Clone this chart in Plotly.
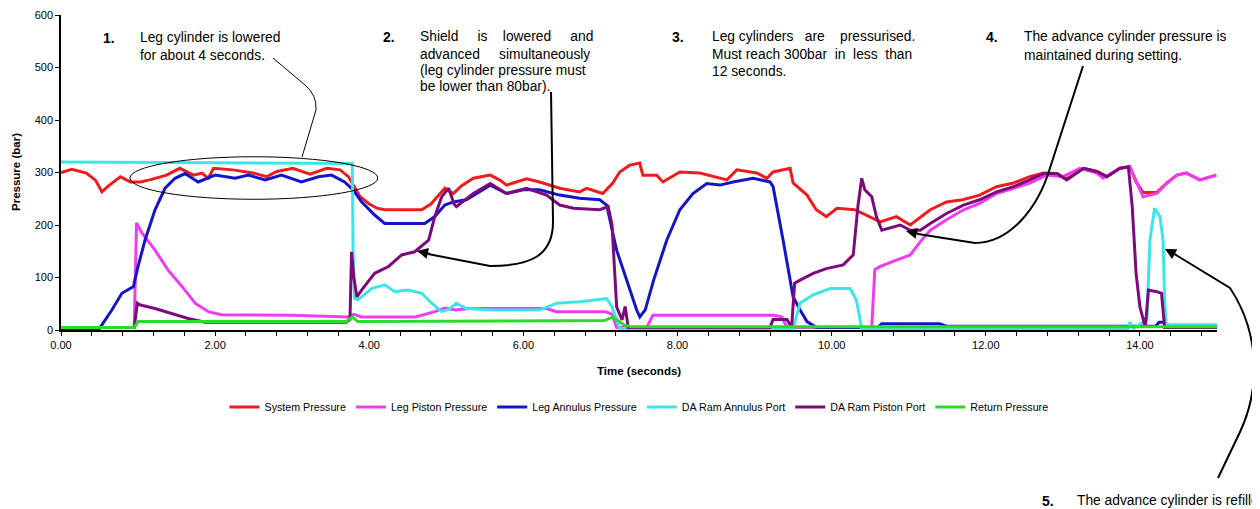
import plotly.graph_objects as go

# ---------------- data ----------------
sys_t = [0.00, 0.14, 0.33, 0.45, 0.53, 0.62, 0.77, 0.90, 1.03, 1.15, 1.37, 1.54, 1.72, 1.83, 1.91, 1.98,
         2.23, 2.49, 2.67, 2.80, 3.01, 3.23, 3.45, 3.62, 3.73, 3.80, 3.88, 4.00, 4.10, 4.20, 4.68, 4.80,
         4.90, 4.98, 5.09, 5.20, 5.35, 5.57, 5.70, 5.78, 6.04, 6.21, 6.47, 6.73, 6.82, 7.03, 7.16, 7.25,
         7.38, 7.51, 7.55, 7.73, 7.81, 8.03, 8.29, 8.46, 8.64, 8.77, 9.03, 9.16, 9.24, 9.46, 9.50, 9.68,
         9.80, 9.93, 10.07, 10.30, 10.40, 10.63, 10.84, 11.02, 11.28, 11.49, 11.70, 11.92, 12.14, 12.36,
         12.57, 12.75, 12.92, 13.05, 13.27, 13.44, 13.57, 13.74, 13.87, 13.95, 14.04, 14.22, 14.35, 14.48,
         14.60, 14.78, 14.99]
sys_v = [300, 306, 299, 285, 263, 275, 292, 282, 282, 286, 295, 308, 295, 299, 289, 308,
         305, 299, 292, 302, 308, 297, 308, 305, 292, 275, 254, 240, 232, 229, 229, 240,
         257, 270, 260, 275, 289, 295, 285, 276, 288, 282, 270, 263, 270, 260, 280, 301,
         314, 318, 295, 295, 282, 301, 299, 292, 286, 305, 299, 289, 301, 308, 280, 257,
         229, 216, 232, 229, 222, 206, 216, 200, 229, 244, 248, 257, 273, 280,
         292, 299, 298, 288, 308, 302, 292, 308, 311, 282, 262, 262, 280, 295,
         299, 286, 295]

legp_t = [0.00, 0.95, 0.98, 1.05, 1.22, 1.39, 1.57, 1.74, 1.91, 2.08, 3.00, 3.73, 3.80, 3.90, 4.60,
          4.85, 4.98, 5.12, 5.30, 6.30, 6.43, 7.07, 7.15, 7.21, 7.60, 7.68, 9.24, 9.35, 9.42, 10.52,
          10.56, 10.63, 10.84, 11.02, 11.15, 11.28, 11.49, 11.71, 11.92, 12.14, 12.36, 12.57, 12.79,
          13.00, 13.22, 13.44, 13.52, 13.74, 13.87, 13.96, 14.04, 14.22, 14.35, 14.48, 14.60, 14.78, 14.99]
legp_v = [5, 5, 204, 185, 152, 114, 83, 51, 35, 29, 28, 25, 30, 25, 25,
          35, 42, 38, 41, 41, 35, 35, 30, 5, 5, 28, 28, 25, 5, 5,
          115, 121, 133, 143, 168, 190, 210, 229, 241, 260, 270, 280, 295,
          292, 308, 299, 289, 308, 311, 282, 254, 260, 280, 295, 299, 286, 295]

lega_t = [0.00, 0.50, 0.66, 0.79, 0.94, 1.00, 1.09, 1.22, 1.35, 1.48, 1.61, 1.78, 2.00, 2.26, 2.43,
          2.65, 2.86, 3.12, 3.34, 3.51, 3.68, 3.79, 3.90, 4.07, 4.20, 4.72, 4.85, 4.98, 5.09, 5.26,
          5.57, 5.78, 6.00, 6.21, 6.47, 6.73, 6.99, 7.08, 7.21, 7.34, 7.47, 7.51, 7.58, 7.69, 7.86,
          8.03, 8.20, 8.38, 8.55, 8.72, 8.98, 9.20, 9.24, 9.37, 9.50, 9.59, 9.68, 9.80, 10.60, 10.65,
          11.40, 11.50, 14.20, 14.25, 14.32, 14.35, 15.00]
lega_v = [3, 3, 38, 70, 83, 121, 171, 229, 270, 289, 298, 282, 295, 289, 295,
          286, 295, 282, 292, 295, 282, 267, 244, 219, 203, 203, 216, 238, 244, 248,
          276, 260, 267, 267, 257, 251, 248, 238, 152, 95, 38, 25, 38, 95, 171,
          229, 260, 279, 276, 282, 289, 282, 273, 171, 63, 38, 16, 5, 5, 12,
          12, 7, 7, 15, 15, 5, 5]

daa_t = [0.00, 3.78, 3.79, 3.81, 3.85, 3.95, 4.03, 4.20, 4.33, 4.50, 4.68, 4.81, 4.94, 5.04, 5.13,
         5.26, 5.57, 6.21, 6.43, 6.73, 7.08, 7.15, 7.25, 9.50, 9.59, 9.76, 9.98, 10.24, 10.32, 10.39,
         13.85, 13.87, 13.92, 14.09, 14.13, 14.19, 14.26, 14.30, 14.32, 14.34, 15.00]
daa_v = [320, 317, 152, 60, 57, 70, 79, 86, 73, 76, 70, 51, 35, 40, 51,
         41, 38, 38, 51, 54, 60, 44, 3, 3, 51, 67, 79, 79, 57, 3,
         3, 15, 3, 20, 171, 232, 216, 171, 57, 10, 10]

dap_t = [0.00, 0.95, 0.99, 1.02, 1.22, 1.44, 1.65, 1.87, 3.70, 3.75, 3.77, 3.80, 3.84, 3.90, 4.07,
         4.25, 4.42, 4.59, 4.77, 4.85, 4.94, 5.03, 5.10, 5.13, 5.35, 5.57, 5.78, 6.04, 6.30, 6.47,
         6.65, 6.99, 7.10, 7.15, 7.21, 7.28, 7.32, 7.36, 9.20, 9.24, 9.42, 9.48, 9.52, 9.59, 9.76,
         9.93, 10.15, 10.28, 10.34, 10.39, 10.43, 10.52, 10.58, 10.65, 10.76, 10.89, 11.02, 11.15,
         11.28, 11.49, 11.71, 11.92, 12.14, 12.36, 12.57, 12.75, 12.92, 13.05, 13.27, 13.44, 13.57,
         13.74, 13.85, 13.90, 13.95, 14.00, 14.07, 14.11, 14.22, 14.28, 14.32, 15.00]
dap_v = [5, 5, 51, 48, 41, 32, 22, 15, 15, 20, 149, 100, 63, 76, 108,
         121, 143, 149, 171, 216, 254, 270, 240, 235, 260, 279, 260, 270, 257, 238,
         232, 229, 235, 200, 44, 19, 45, 5, 5, 20, 20, 5, 89, 95, 108,
         117, 124, 143, 235, 289, 267, 254, 216, 190, 194, 200, 190, 190,
         203, 222, 238, 248, 263, 273, 286, 298, 298, 286, 308, 302, 292,
         308, 311, 235, 108, 44, 5, 76, 73, 70, 5, 5]

ret_t = [0.00, 0.95, 1.00, 3.70, 3.78, 3.85, 7.05, 7.16, 7.30, 7.40, 15.00]
ret_v = [5, 5, 16, 16, 25, 16, 18, 25, 10, 6, 6]

series_names = ["System Pressure", "Leg Piston Pressure", "Leg Annulus Pressure",
                "DA Ram Annulus Port", "DA Ram Piston Port", "Return Pressure"]
series_colors = ["#ee1c1c", "#f03cf0", "#1414c8", "#3ce6e6", "#7d0a7d", "#28dc28"]

# ---------------- layout geometry ----------------
OFF = 8                      # page body margin that shifts the figure
W, H = 1260 - OFF, 509 - OFF
PL, PR, PT, PB = 61, 1217, 15, 330   # plot area on the page
ML, MT = PL - OFF, PT - OFF
PW, PH = PR - PL, PB - PT
MR = W - ML - PW
MB = H - MT - PH


def px(x, y):
    """page pixel position -> paper coordinates"""
    return (x - PL) / PW, (PB - y) / PH


FONT = "Liberation Sans, Arial, sans-serif"

fig = go.Figure()
for t, v, name, col in zip([sys_t, legp_t, lega_t, daa_t, dap_t, ret_t],
                           [sys_v, legp_v, lega_v, daa_v, dap_v, ret_v],
                           series_names, series_colors):
    fig.add_trace(go.Scatter(x=t, y=v, mode="lines", name=name,
                             line=dict(color=col, width=3)))

# ellipse around phase 1
fig.add_shape(type="circle", xref="x", yref="y", x0=0.895, x1=4.11, y0=249, y1=330,
              line=dict(color="black", width=1), layer="above")


def path_from(cmds):
    out = []
    for cmd, pts in cmds:
        coords = []
        for (x, y) in pts:
            a, b = px(x, y)
            coords.append(f"{a:.5f},{b:.5f}")
        out.append(cmd + " ".join(coords))
    return " ".join(out)


connectors = [
    ([("M", [(273, 58)]), ("L", [(305, 85)]), ("Q", [(317, 95), (316, 110)]), ("L", [(302, 157)])], 1),
    ([("M", [(551, 92)]), ("L", [(553, 222)]), ("C", [(553, 256), (530, 266), (490, 266)]),
      ("L", [(428, 254)])], 2),
    ([("M", [(1083, 66)]), ("L", [(1050, 168)]), ("C", [(1038, 208), (1010, 243), (975, 243)]),
      ("L", [(918, 234)])], 2),
    ([("M", [(1218, 478)]), ("L", [(1240, 432)]), ("C", [(1262, 385), (1258, 330), (1230, 288)]),
      ("L", [(1176, 255)])], 2),
]
for cmds, w in connectors:
    fig.add_shape(type="path", xref="paper", yref="paper", path=path_from(cmds),
                  line=dict(color="black", width=w))

# arrow heads
for (tx, ty), (ax, ay) in [((417, 251), (14, 3)), ((906, 231), (14, 3)), ((1165, 249), (13, 7))]:
    a, b = px(tx, ty)
    fig.add_annotation(x=a, y=b, xref="paper", yref="paper", text="", showarrow=True,
                       ax=ax, ay=ay, arrowhead=2, arrowsize=1.1, arrowwidth=2,
                       arrowcolor="black", standoff=0, startstandoff=0)

NB = "\u00a0"
# (number, number x, text x, line centre y's, lines)
notes = [
    ("1.", 101, 138, [38, 56], ["Leg cylinder is lowered", "for about 4 seconds."]),
    ("2.", 381, 418, [37, 54, 70.5, 87],
     ["Shield" + NB * 4 + " is" + NB * 3 + " lowered" + NB * 4 + " and",
      "advanced" + NB * 4 + " simultaneously",
      "(leg cylinder pressure must",
      "be lower than 80bar)."]),
    ("3.", 670, 710, [37, 54.5, 71],
     ["Leg cylinders" + NB * 2 + " are" + NB * 3 + " pressurised.",
      "Must reach 300bar" + NB + " in" + NB + " less" + NB + " than",
      "12 seconds."]),
    ("4.", 984, 1022, [37, 56], ["The advance cylinder pressure is", "maintained during setting."]),
    ("5.", 1040, 1075, [501], ["The advance cylinder is refilled"]),
]
for num, nx, tx, ys, lines in notes:
    a, b = px(nx, ys[0])
    fig.add_annotation(x=a, y=b, xref="paper", yref="paper", text="<b>" + num + "</b>",
                       showarrow=False, xanchor="left", yanchor="middle",
                       font=dict(family=FONT, size=14, color="black"))
    for yy, line in zip(ys, lines):
        a, b = px(tx, yy)
        fig.add_annotation(x=a, y=b, xref="paper", yref="paper", text=line, showarrow=False,
                           xanchor="left", yanchor="middle", align="left",
                           font=dict(family=FONT, size=13.8, color="black"))

# axis titles
a, b = px(639, 371)
fig.add_annotation(x=a, y=b, xref="paper", yref="paper", text="<b>Time (seconds)</b>",
                   showarrow=False, xanchor="center", yanchor="middle",
                   font=dict(family=FONT, size=11.5, color="black"))
a, b = px(16, 172)
fig.add_annotation(x=a, y=b, xref="paper", yref="paper", text="<b>Pressure (bar)</b>",
                   showarrow=False, textangle=-90, xanchor="center", yanchor="middle",
                   font=dict(family=FONT, size=11.5, color="black"))

fig.update_layout(
    width=W, height=H,
    margin=dict(l=ML, r=MR, t=MT, b=MB, pad=0),
    paper_bgcolor="white", plot_bgcolor="white",
    font=dict(family=FONT, size=11, color="black"),
    showlegend=True,
    legend=dict(orientation="h", x=0.5, xanchor="center", y=px(0, 407)[1], yanchor="middle",
                font=dict(family=FONT, size=10.7, color="black"), bgcolor="rgba(0,0,0,0)"),
    xaxis=dict(range=[0, 15], showgrid=False, zeroline=False, showline=True, linecolor="black",
               linewidth=1.5, ticks="outside", ticklen=4, tickcolor="black", dtick=2, tick0=0,
               tickformat=".2f", tickfont=dict(size=11), automargin=False,
               minor=dict(dtick=0.4, tick0=0, ticks="outside", ticklen=4, tickcolor="black")),
    yaxis=dict(range=[0, 600], showgrid=False, zeroline=False, showline=True, linecolor="black",
               linewidth=1.5, ticks="outside", ticklen=4, tickcolor="black", dtick=100, tick0=0,
               tickfont=dict(size=11), automargin=False),
)

fig.write_html("out.html")
